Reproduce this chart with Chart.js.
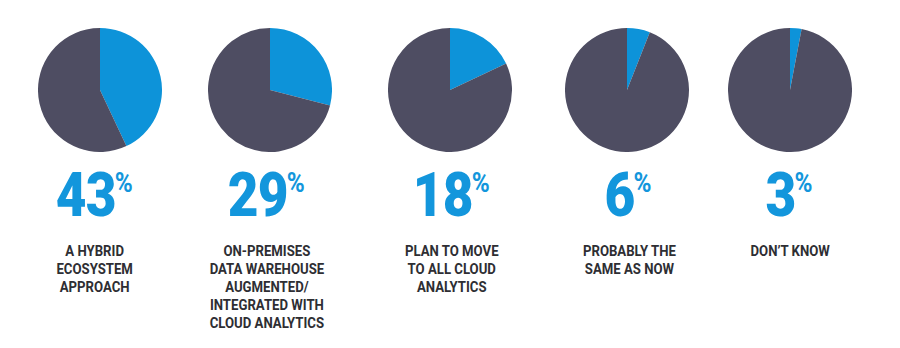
<!DOCTYPE html>
<html>
<head>
<meta charset="utf-8">
<script src="https://cdn.jsdelivr.net/npm/chart.js@4.4.1/dist/chart.umd.min.js"></script>
<style>
  html, body { margin: 0; padding: 0; background: #fff; }
  #wrap { position: relative; width: 900px; height: 348px; overflow: hidden; }
  .pie { position: absolute; top: 28px; width: 124px; height: 124px; }
  .num {
    position: absolute; top: 165px; width: 170px; text-align: center;
    font-family: "Roboto", sans-serif; font-weight: 900;
    font-size: 61px; line-height: 61px; color: #1396dc;
  }
  .num span { display: inline-block; transform: scaleX(0.87); letter-spacing: -1px; }
  .num .pct {
    display: inline-block; vertical-align: top; font-size: 28px; line-height: 28px;
    font-weight: bold; position: relative; top: 4px; left: -1px; letter-spacing: 0; transform: none;
  }
  .lbl {
    position: absolute; top: 242px; width: 170px; text-align: center;
    font-family: "Roboto", sans-serif; font-weight: bold;
    font-size: 14px; line-height: 18px; color: #2e2e33;
  }
  .lbl span { display: inline-block; transform: scaleX(0.94); }
</style>
</head>
<body>
<div id="wrap"></div>
<script>
// survey answers, one pie per answer
const answers = [
  ["A HYBRID", "ECOSYSTEM", "APPROACH"],
  ["ON-PREMISES", "DATA WAREHOUSE", "AUGMENTED/", "INTEGRATED WITH", "CLOUD ANALYTICS"],
  ["PLAN TO MOVE", "TO ALL CLOUD", "ANALYTICS"],
  ["PROBABLY THE", "SAME AS NOW"],
  ["DON\u2019T KNOW"]
];
const shares = [43, 29, 18, 6, 3];
const others = [57, 71, 82, 94, 97];

const blue = "#0d93d9";
const slate = "#4e4d62";

// column centres: pie and text
const pieX = [100, 270, 450, 627, 790];
const textX = [95, 267, 452, 629, 790];

const wrap = document.getElementById("wrap");

shares.forEach((v, i) => {
  const canvas = document.createElement("canvas");
  canvas.className = "pie";
  canvas.width = 124;
  canvas.height = 124;
  canvas.style.left = (pieX[i] - 62) + "px";
  wrap.appendChild(canvas);

  new Chart(canvas.getContext("2d"), {
    type: "pie",
    data: {
      labels: ["Yes", "Other"],
      datasets: [{
        data: [v, others[i]],
        backgroundColor: [blue, slate],
        borderWidth: 0
      }]
    },
    options: {
      responsive: false,
      animation: false,
      events: [],
      layout: { padding: 0 },
      plugins: {
        legend: { display: false },
        tooltip: { enabled: false }
      }
    }
  });

  const num = document.createElement("div");
  num.className = "num";
  num.style.left = (textX[i] - 85) + "px";
  num.innerHTML = "<span>" + v + "<span class='pct'>%</span></span>";
  wrap.appendChild(num);

  const lbl = document.createElement("div");
  lbl.className = "lbl";
  lbl.style.left = (textX[i] - 85) + "px";
  lbl.innerHTML = "<span>" + answers[i].join("<br>") + "</span>";
  wrap.appendChild(lbl);
});
</script>
</body>
</html>
